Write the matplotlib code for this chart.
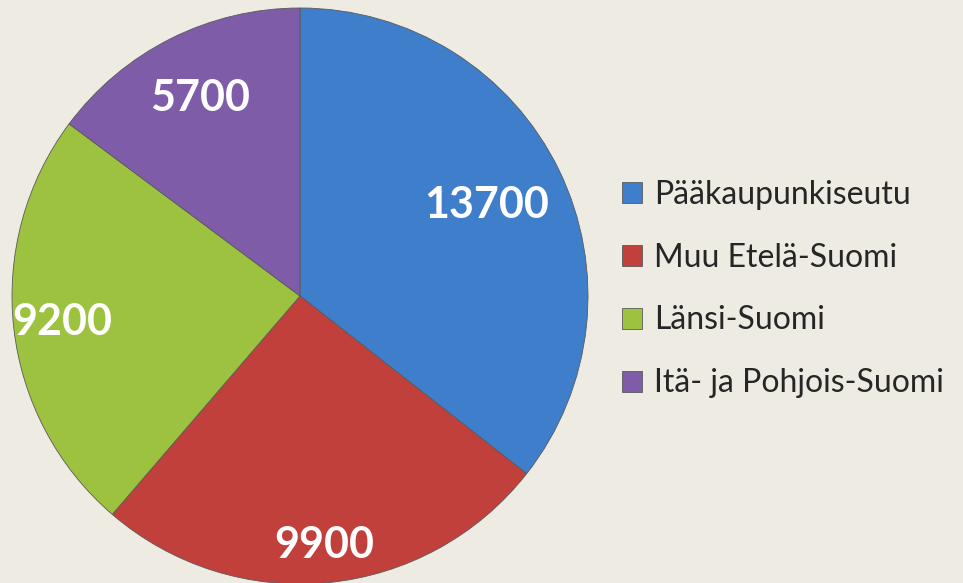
import matplotlib.pyplot as plt
import numpy as np

regions = ['Pääkaupunkiseutu', 'Muu Etelä-Suomi', 'Länsi-Suomi', 'Itä- ja Pohjois-Suomi']
values = [13700, 9900, 9200, 5700]
colors = ['#3F7ECB', '#C2403C', '#9CC23F', '#7E5CA8']
label_radius = [0.72, 0.87, 0.83, 0.77]

bg = '#EDEBE2'
fig = plt.figure(figsize=(9.63, 5.83), dpi=100, facecolor=bg)
W, H = 963, 583
cx, cy, r = 300, 296, 288
ax = fig.add_axes([(cx - r) / W, (H - cy - r) / H, 2 * r / W, 2 * r / H])
ax.set_facecolor(bg)

wedges, _ = ax.pie(values, colors=colors, startangle=90, counterclock=False,
                   radius=1.0, wedgeprops=dict(edgecolor='#5a5a5a', linewidth=0.6))
ax.set_xlim(-1, 1)
ax.set_ylim(-1, 1)
ax.axis('off')

for w, v, d in zip(wedges, values, label_radius):
    ang = np.deg2rad((w.theta1 + w.theta2) / 2)
    ax.text(d * np.cos(ang), d * np.sin(ang), str(v), ha='center', va='center',
            color='white', fontsize=31, fontweight='bold', family='Lato')

leg = fig.legend(wedges, regions, loc='center left', bbox_to_anchor=(593 / W, 1 - 289 / H),
                 frameon=False, prop={'family': 'Lato', 'size': 23},
                 handlelength=0.63, handleheight=0.63, handletextpad=0.38, labelspacing=1.03)
for t in leg.get_texts():
    t.set_color('#262626')

fig.savefig('out.png', dpi=100, facecolor=bg)
